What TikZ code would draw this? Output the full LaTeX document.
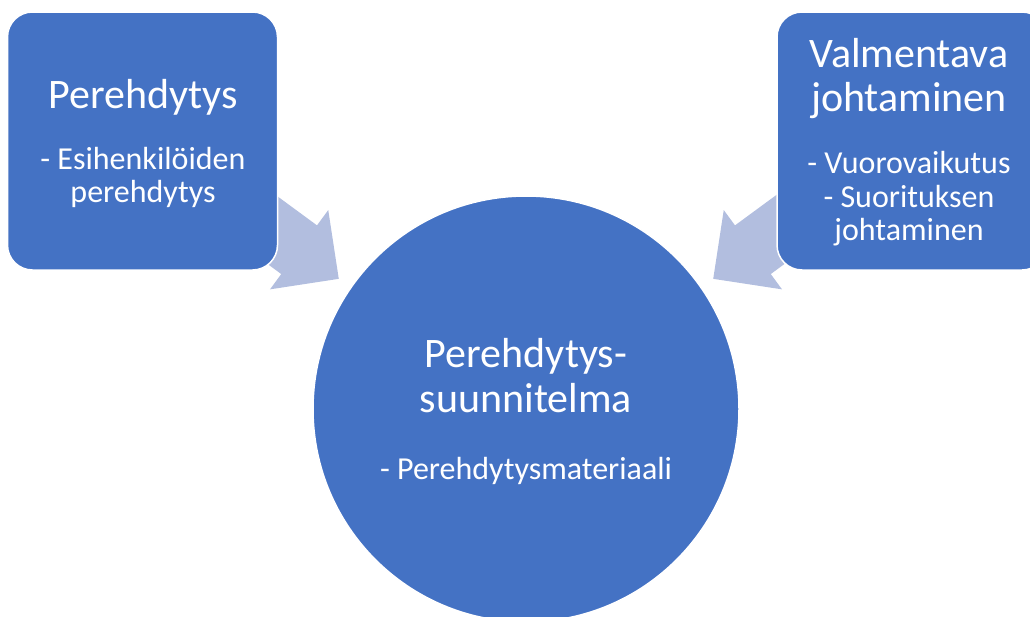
\documentclass[tikz,border=0pt]{standalone}
\usepackage{fontspec}
\setmainfont{Carlito}
\usetikzlibrary{shapes.arrows}

\definecolor{boxblue}{HTML}{4472C4}
\definecolor{arrowblue}{HTML}{B2BEDF}

\tikzset{
  topic/.style={draw=white, line width=1.5pt, fill=boxblue, rounded corners=25pt,
    minimum width=270pt, minimum height=258pt, inner sep=0pt},
  hub/.style={circle, draw=white, line width=1.5pt, fill=boxblue,
    minimum size=426pt, inner sep=0pt},
  feed/.style={single arrow, fill=arrowblue, anchor=tip, inner xsep=0pt, inner ysep=30pt,
    minimum height=120pt, single arrow head extend=19pt},
  headline/.style={text=white, anchor=base, inner sep=0pt, font=\fontsize{42}{50}\selectfont},
  bullet/.style={text=white, anchor=base, inner sep=0pt, font=\fontsize{32}{38}\selectfont},
}

\begin{document}
\begin{tikzpicture}[x=1pt, y=-1pt]

    \useasboundingbox (0,0) rectangle (1030,616);
    \clip (0,0) rectangle (1030,616);

    % Arrows (tails hidden under the boxes)
    \node[feed, rotate=-36.3]  (feedL) at (339,279) {};
    \node[feed, rotate=-143.7] (feedR) at (713,279) {};

    % Define nodes
    \node[topic] (intro) at (142.5,141) {};
    \node[topic] (coach) at (912,141) {};
    \node[hub]   (plan)  at (526,409) {};

    % Texts
    \node[headline] (introT)  at (143,108) {Perehdytys};
    \node[bullet]   (introS1) at (143,169) {- Esihenkilöiden};
    \node[bullet]   (introS2) at (143,202) {perehdytys};

    \node[headline] (coachT1) at (909,67)  {Valmentava};
    \node[headline] (coachT2) at (909,111) {johtaminen};
    \node[bullet]   (coachS1) at (909,173) {- Vuorovaikutus};
    \node[bullet]   (coachS2) at (909,207) {- Suorituksen};
    \node[bullet]   (coachS3) at (909,240) {johtaminen};

    \node[headline] (planT1) at (526,367) {Perehdytys-};
    \node[headline] (planT2) at (526,412) {suunnitelma};
    \node[bullet]   (planS)  at (526,479) {- Perehdytysmateriaali};

\end{tikzpicture}
\end{document}
